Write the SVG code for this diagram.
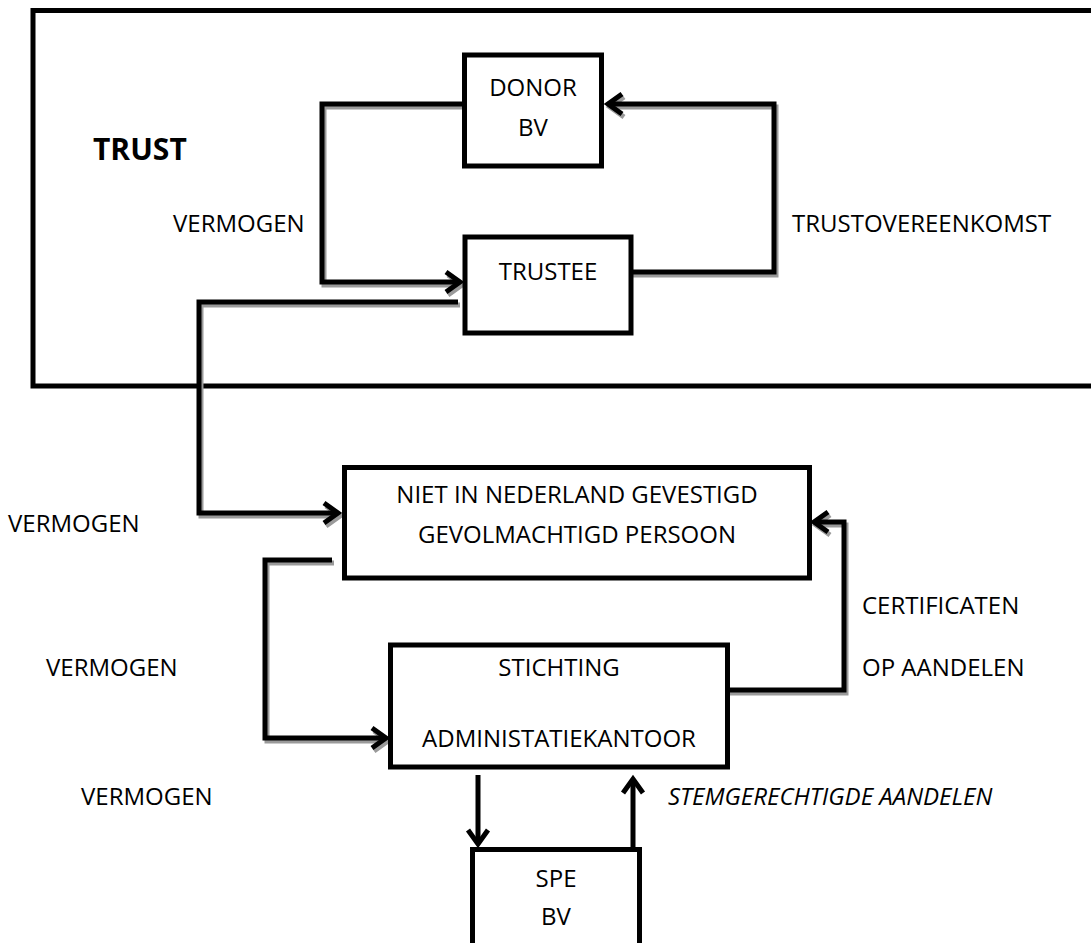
<svg xmlns="http://www.w3.org/2000/svg" width="1091" height="943" viewBox="0 0 1091 943">
<defs>
<marker id="ah" markerUnits="userSpaceOnUse" markerWidth="30" markerHeight="30" refX="0" refY="0" viewBox="-20 -15 30 30" orient="auto" overflow="visible">
<path d="M-14,-10 L0,0 L-14,10" fill="none" stroke="#000" stroke-width="5"/>
</marker>
<marker id="ahs" markerUnits="userSpaceOnUse" markerWidth="30" markerHeight="30" refX="0" refY="0" viewBox="-20 -15 30 30" orient="auto" overflow="visible">
<path d="M-14,-10 L0,0 L-14,10" fill="none" stroke="#9a9a9a" stroke-width="5"/>
</marker>
</defs>
<style>
.box{fill:#fff;stroke:#000;stroke-width:5}
.t{font-family:"Open Sans","Liberation Sans",sans-serif;font-size:24px;fill:#000}
.m{text-anchor:middle}
.c{fill:none;stroke:#000;stroke-width:5;marker-end:url(#ah)}
.s{fill:none;stroke:#9a9a9a;stroke-width:5;marker-end:url(#ahs)}
</style>
<rect width="1091" height="943" fill="#fff"/>
<g id="trust">
<rect x="33" y="10.5" width="1075" height="375.5" fill="none" stroke="#000" stroke-width="5"/>
<text class="t" x="93" y="160" style="font-weight:bold;font-size:30px">TRUST</text>
</g>
<g id="connector-shadows" transform="translate(2,3)">
<path class="s" d="M464,104 H322 V282 H460"/>
<path class="s" d="M631,272 H774 V104 H608"/>
<path class="s" d="M458,302 H199 V513 H338"/>
<path class="s" d="M332,560 H265 V738 H386"/>
<path class="s" d="M728,690 H844 V522 H814"/>
</g>
<g id="connectors">
<path class="c" d="M464,104 H322 V282 H460"/>
<path class="c" d="M631,272 H774 V104 H608"/>
<path class="c" d="M458,302 H199 V513 H338"/>
<path class="c" d="M332,560 H265 V738 H386"/>
<path class="c" d="M728,690 H844 V522 H814"/>
<path class="c" d="M478,775 V844"/>
<path class="c" d="M633,849 V779"/>
</g>
<g id="labels">
<text class="t" x="173" y="232">VERMOGEN</text>
<text class="t" x="792" y="232">TRUSTOVEREENKOMST</text>
<text class="t" x="8" y="532">VERMOGEN</text>
<text class="t" x="862" y="614">CERTIFICATEN</text>
<text class="t" x="862" y="676">OP AANDELEN</text>
<text class="t" x="46" y="676">VERMOGEN</text>
<text class="t" x="81" y="805">VERMOGEN</text>
<text class="t" x="668" y="805" font-style="italic">STEMGERECHTIGDE AANDELEN</text>
</g>
<g id="donor">
<rect class="box" x="464.5" y="55" width="137" height="111"/>
<text class="t m" x="533" y="96">DONOR</text>
<text class="t m" x="533" y="136">BV</text>
</g>
<g id="trustee">
<rect class="box" x="465" y="237" width="166" height="96"/>
<text class="t m" x="548" y="280">TRUSTEE</text>
</g>
<g id="gevolmachtigde">
<rect class="box" x="344.5" y="467.5" width="465" height="110.5"/>
<text class="t m" x="577" y="503">NIET IN NEDERLAND GEVESTIGD</text>
<text class="t m" x="577" y="543">GEVOLMACHTIGD PERSOON</text>
</g>
<g id="stichting">
<rect class="box" x="390.5" y="645" width="337" height="122"/>
<text class="t m" x="559" y="676">STICHTING</text>
<text class="t m" x="559" y="747">ADMINISTATIEKANTOOR</text>
</g>
<g id="spe">
<rect class="box" x="472.5" y="849.5" width="167" height="110"/>
<text class="t m" x="556" y="887">SPE</text>
<text class="t m" x="556" y="925">BV</text>
</g>
</svg>
